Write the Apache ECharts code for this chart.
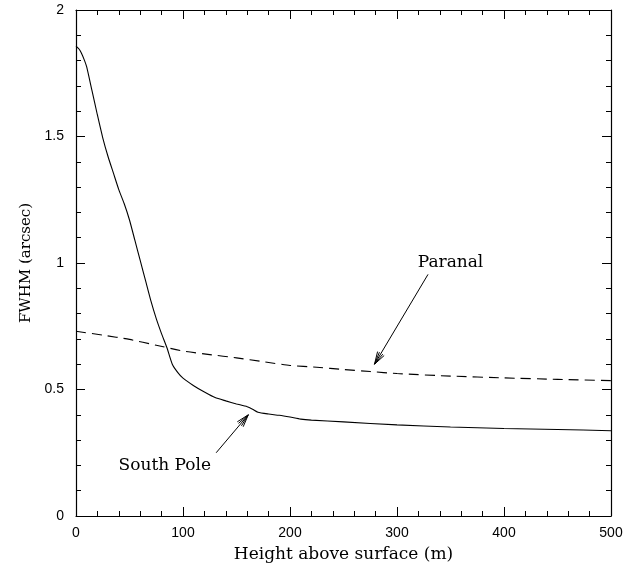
<!DOCTYPE html>
<html>
<head>
<meta charset="utf-8">
<script src="https://cdn.jsdelivr.net/npm/echarts@6/dist/echarts.min.js"></script>
<style>
  html, body { margin: 0; padding: 0; background: #fff; }
  #chart { width: 642px; height: 566px; }
</style>
</head>
<body>
<div id="chart"></div>
<script>
// Seeing FWHM versus height above the ground
var southPoleHeight = [0, 3, 5, 8, 10, 15, 20, 25, 30, 35, 40, 45, 50, 55, 60, 65, 70, 75, 80, 85, 90, 95, 100, 110, 120, 130, 140, 150, 160, 165, 170, 180, 190, 200, 210, 220, 250, 300, 350, 400, 450, 500];
var southPoleFwhm   = [1.857, 1.845, 1.83, 1.80, 1.775, 1.68, 1.585, 1.495, 1.42, 1.355, 1.29, 1.235, 1.17, 1.09, 1.01, 0.93, 0.85, 0.78, 0.72, 0.665, 0.60, 0.568, 0.545, 0.515, 0.49, 0.468, 0.455, 0.443, 0.432, 0.422, 0.41, 0.403, 0.398, 0.391, 0.383, 0.379, 0.372, 0.36, 0.352, 0.346, 0.342, 0.337];

var paranalHeight = [0, 25, 50, 75, 100, 125, 150, 175, 200, 225, 250, 275, 300, 350, 400, 450, 500];
var paranalFwhm   = [0.73, 0.715, 0.698, 0.675, 0.652, 0.638, 0.625, 0.61, 0.595, 0.588, 0.579, 0.571, 0.563, 0.553, 0.546, 0.54, 0.535];

var yTickLabels = { 0: '0', 0.5: '0.5', 1: '1', 1.5: '1.5', 2: '2' };

// Annotation labels with arrows (data coordinates)
var annotations = [
  { text: 'Paranal',    at: [350, 1.0],  from: [329, 0.955], to: [279, 0.60] },
  { text: 'South Pole', at: [83, 0.198], from: [131, 0.25],  to: [161, 0.40] }
];

function zip(xs, ys) { return xs.map(function (x, i) { return [x, ys[i]]; }); }

var chart = echarts.init(document.getElementById('chart'));
var serifFont = '"DejaVu Serif", "Liberation Serif", serif';
var sansFont = '"Liberation Sans", Arial, sans-serif';

function xAxisCfg(pos, showLabels) {
  return {
    type: 'value', position: pos, min: 0, max: 500, interval: 100,
    name: showLabels ? 'Height above surface (m)' : '',
    nameLocation: 'middle', nameGap: 30,
    nameTextStyle: { fontFamily: serifFont, fontSize: 17, color: '#000' },
    axisLine: { show: true, onZero: false, lineStyle: { color: '#000', width: 1.2 } },
    axisTick: { show: true, inside: true, length: 9, lineStyle: { color: '#000', width: 1 } },
    minorTick: { show: true, splitNumber: 5, length: 5, lineStyle: { color: '#000', width: 1 } },
    axisLabel: { show: showLabels, margin: 10, fontFamily: sansFont, fontSize: 14, color: '#000' },
    splitLine: { show: false }, minorSplitLine: { show: false }
  };
}
function yAxisCfg(pos, showLabels) {
  return {
    type: 'value', position: pos, min: 0, max: 2, interval: 0.5,
    name: showLabels ? 'FWHM (arcsec)' : '',
    nameLocation: 'middle', nameGap: 38, nameRotate: 90,
    nameTextStyle: { fontFamily: serifFont, fontSize: 15, color: '#000' },
    axisLine: { show: true, onZero: false, lineStyle: { color: '#000', width: 1.2 } },
    axisTick: { show: true, inside: true, length: 9, lineStyle: { color: '#000', width: 1 } },
    minorTick: { show: true, splitNumber: 5, length: 5, lineStyle: { color: '#000', width: 1 } },
    axisLabel: { show: showLabels, margin: 12, fontFamily: sansFont, fontSize: 14, color: '#000',
                 formatter: function (v) { return yTickLabels[v] !== undefined ? yTickLabels[v] : ''; } },
    splitLine: { show: false }, minorSplitLine: { show: false }
  };
}

chart.setOption({
  animation: false,
  backgroundColor: '#fff',
  grid: { left: 76, right: 31, top: 10, bottom: 50, outerBoundsMode: 'none', containLabel: false },
  xAxis: [xAxisCfg('bottom', true), xAxisCfg('top', false)],
  yAxis: [yAxisCfg('left', true), yAxisCfg('right', false)],
  series: [
    {
      name: 'South Pole', type: 'line', xAxisIndex: 0, yAxisIndex: 0,
      data: zip(southPoleHeight, southPoleFwhm), showSymbol: false, smooth: 0.2,
      lineStyle: { color: '#000', width: 1.1 }
    },
    {
      name: 'Paranal', type: 'line', xAxisIndex: 0, yAxisIndex: 0,
      data: zip(paranalHeight, paranalFwhm), showSymbol: false, smooth: 0.2,
      lineStyle: { color: '#000', width: 1.1, type: [10, 6] }
    }
  ]
});

// Text labels and open arrowheads pointing at the curves
var elements = [];
annotations.forEach(function (a) {
  var p = chart.convertToPixel({ xAxisIndex: 0, yAxisIndex: 0 }, a.at);
  var f = chart.convertToPixel({ xAxisIndex: 0, yAxisIndex: 0 }, a.from);
  var t = chart.convertToPixel({ xAxisIndex: 0, yAxisIndex: 0 }, a.to);
  elements.push({
    type: 'text', x: p[0], y: p[1],
    style: { text: a.text, font: '17px ' + serifFont, fill: '#000', align: 'center', verticalAlign: 'middle' }
  });
  elements.push({
    type: 'line', shape: { x1: f[0], y1: f[1], x2: t[0], y2: t[1] },
    style: { stroke: '#000', lineWidth: 1 }
  });
  var ang = Math.atan2(f[1] - t[1], f[0] - t[0]);
  var len = 13;
  [-0.3, -0.15, 0.15, 0.3].forEach(function (d) {
    elements.push({
      type: 'line',
      shape: { x1: t[0], y1: t[1], x2: t[0] + len * Math.cos(ang + d), y2: t[1] + len * Math.sin(ang + d) },
      style: { stroke: '#000', lineWidth: 1 }
    });
  });
});
chart.setOption({ graphic: { elements: elements } });
</script>
</body>
</html>
